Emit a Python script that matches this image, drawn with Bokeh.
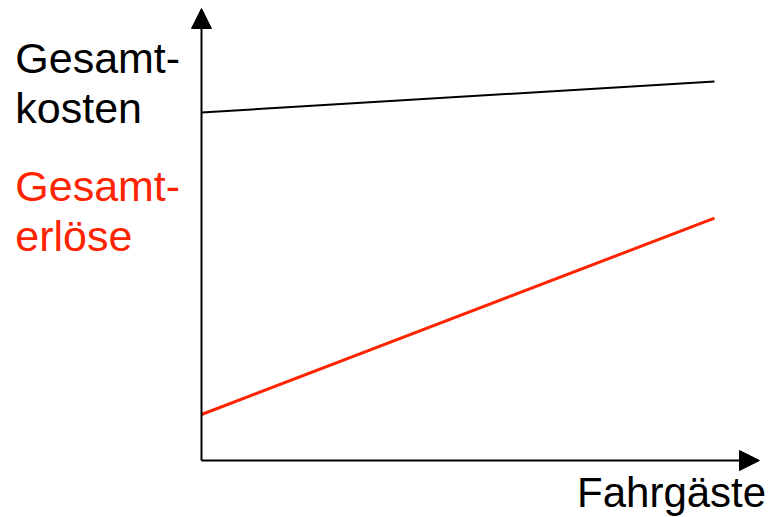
from bokeh.plotting import figure
from bokeh.models import Range1d, Arrow, NormalHead
from bokeh.core.properties import value
from bokeh.embed import file_html
from bokeh.resources import INLINE

# --- data ---
fahrgaeste = [0, 100]
gesamtkosten = [87.0, 94.75]
gesamterloese = [11.5, 60.6]

label_kosten = ["Gesamt-", "kosten"]
label_erloese = ["Gesamt-", "erlöse"]
label_x = "Fahrgäste"

# --- layout constants ---
W, H = 771, 517
p = figure(width=W, height=H, output_backend="svg", toolbar_location=None,
           x_range=Range1d(-39.18, 111.11), y_range=Range1d(-14.25, 115.0),
           min_border=0)
p.axis.visible = False
p.grid.visible = False
p.outline_line_color = None
p.background_fill_color = "white"
p.border_fill_color = "white"

RED = "#FF2400"

# axes with arrow heads
p.add_layout(Arrow(x_start=0, y_start=0, x_end=0, y_end=113.0,
                   line_color="black", line_width=2,
                   end=NormalHead(size=20, fill_color="black", line_color="black", line_width=1)))
p.add_layout(Arrow(x_start=0, y_start=0, x_end=108.77, y_end=0,
                   line_color="black", line_width=2,
                   end=NormalHead(size=20, fill_color="black", line_color="black", line_width=1)))

# series
p.line(fahrgaeste, gesamtkosten, line_color="black", line_width=2)
p.line(fahrgaeste, gesamterloese, line_color=RED, line_width=3)

font = value("Liberation Sans")
fs = value("43px")
p.text(x=[-36.3, -36.3], y=[100.75, 88.25], text=label_kosten, text_color="black",
       text_font=font, text_font_size=fs, text_baseline="alphabetic", text_align="left")
p.text(x=[-36.3, -36.3], y=[68.75, 56.25], text=label_erloese, text_color=RED,
       text_font=font, text_font_size=fs, text_baseline="alphabetic", text_align="left")
p.text(x=[73.2], y=[-8.0], text=[label_x], text_color="black",
       text_font=font, text_font_size=value("42px"), text_baseline="alphabetic", text_align="left")

open("out.html", "w").write(file_html(p, INLINE))
